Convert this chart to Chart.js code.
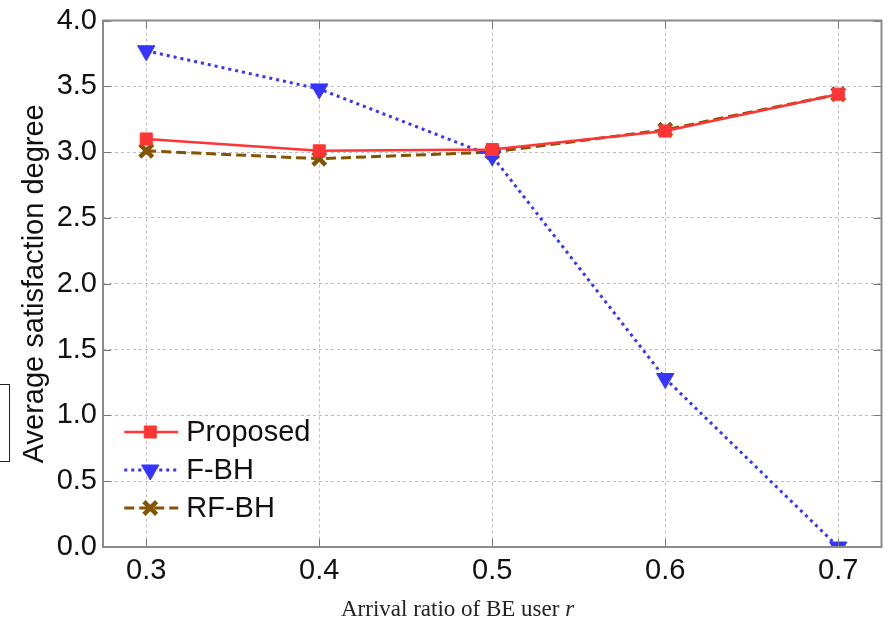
<!DOCTYPE html>
<html>
<head>
<meta charset="utf-8">
<script src="https://cdn.jsdelivr.net/npm/chart.js@4.4.1/dist/chart.umd.min.js"></script>
<style>
  html, body { margin: 0; padding: 0; background: #fff; }
  #wrap { position: relative; width: 895px; height: 627px; }
  #box { position: absolute; left: -3px; top: 384px; width: 12px; height: 76px;
         border: 1.5px solid #222; border-left: none; }
</style>
</head>
<body>
<div id="wrap">
  <canvas id="myChart" width="895" height="627"></canvas>
  <div id="box"></div>
</div>
<script>
const arrivalRatio = [0.3, 0.4, 0.5, 0.6, 0.7];
const xTicks = [0.3, 0.4, 0.5, 0.6, 0.7];
const yTicks = [0, 0.5, 1, 1.5, 2, 2.5, 3, 3.5, 4];

const proposed = [3.10, 3.01, 3.02, 3.16, 3.44];
const fbh = [3.77, 3.48, 2.97, 1.28, 0.0];
const rfbh = [3.01, 2.95, 3.00, 3.17, 3.44];

const xTitle = "Arrival ratio of BE user ";
const xTitleVar = "r";

const toPoints = (vals) => vals.map((v, i) => ({ x: arrivalRatio[i], y: v }));

// legend drawn inside the plot, bottom left
const innerLegend = {
  id: "innerLegend",
  afterDraw(chart) {
    const ctx = chart.ctx;
    const xs = chart.scales.x;
    const x0 = xs.getPixelForValue(0.3) + 4;
    let y = 432;
    chart.data.datasets.forEach((ds) => {
      ctx.save();
      ctx.strokeStyle = ds.borderColor;
      ctx.fillStyle = ds.backgroundColor;
      ctx.lineWidth = ds.borderWidth;
      ctx.setLineDash(ds.borderDash || []);
      ctx.beginPath();
      ctx.moveTo(x0 - 26, y);
      ctx.lineTo(x0 + 28, y);
      ctx.stroke();
      ctx.setLineDash([]);
      ctx.lineWidth = ds.pointBorderWidth;
      Chart.helpers.drawPoint(ctx, {
        pointStyle: ds.pointStyle,
        radius: ds.pointRadius,
        rotation: ds.pointRotation || 0,
        borderWidth: ds.pointBorderWidth
      }, x0, y);
      ctx.fillStyle = "#111";
      ctx.font = "29px 'Liberation Sans', Arial, sans-serif";
      ctx.textBaseline = "middle";
      ctx.fillText(ds.label, x0 + 36, y + 1);
      ctx.restore();
      y += 38;
    });
  }
};

// x axis title, with the variable in italics
const axisTitle = {
  id: "axisTitle",
  afterDraw(chart) {
    const ctx = chart.ctx;
    const a = chart.chartArea;
    ctx.save();
    ctx.fillStyle = "#222";
    ctx.textBaseline = "alphabetic";
    ctx.font = "23px 'Liberation Serif', 'DejaVu Serif', serif";
    const x = a.left + 238;
    const y = a.bottom + 69;
    ctx.fillText(xTitle, x, y);
    const w = ctx.measureText(xTitle).width;
    ctx.font = "italic 23px 'Liberation Serif', 'DejaVu Serif', serif";
    ctx.fillText(xTitleVar, x + w, y);
    ctx.restore();
  }
};

// short inward tick marks on all four sides, plus the frame
const innerTicks = {
  id: "innerTicks",
  afterDatasetsDraw(chart) {
    const ctx = chart.ctx;
    const a = chart.chartArea;
    const xs = chart.scales.x, ys = chart.scales.y;
    ctx.save();
    ctx.strokeStyle = "#777";
    ctx.lineWidth = 1;
    xTicks.forEach((t) => {
      const px = Math.round(xs.getPixelForValue(t)) + 0.5;
      ctx.beginPath();
      ctx.moveTo(px, a.bottom); ctx.lineTo(px, a.bottom - 8);
      ctx.moveTo(px, a.top); ctx.lineTo(px, a.top + 8);
      ctx.stroke();
    });
    yTicks.forEach((t) => {
      const py = Math.round(ys.getPixelForValue(t)) + 0.5;
      ctx.beginPath();
      ctx.moveTo(a.left, py); ctx.lineTo(a.left + 8, py);
      ctx.moveTo(a.right, py); ctx.lineTo(a.right - 8, py);
      ctx.stroke();
    });
    ctx.strokeStyle = "#8a8a8a";
    ctx.lineWidth = 2;
    ctx.strokeRect(a.left, a.top, a.right - a.left, a.bottom - a.top);
    ctx.restore();
  }
};

const tickFont = { family: "'Liberation Sans', Arial, sans-serif", size: 29, lineHeight: 1 };

new Chart(document.getElementById("myChart").getContext("2d"), {
  type: "line",
  data: {
    datasets: [
      {
        label: "Proposed",
        data: toPoints(proposed),
        borderColor: "#ff3535",
        backgroundColor: "#ff3535",
        borderWidth: 2.5,
        pointStyle: "rect",
        pointRadius: 8.5,
        pointBorderWidth: 1,
      },
      {
        label: "F-BH",
        data: toPoints(fbh),
        borderColor: "#3535ff",
        backgroundColor: "#3535ff",
        borderWidth: 3,
        borderDash: [3, 4],
        pointStyle: "triangle",
        pointRotation: 180,
        pointRadius: 10,
        pointBorderWidth: 1,
      },
      {
        label: "RF-BH",
        data: toPoints(rfbh),
        borderColor: "#845400",
        backgroundColor: "#845400",
        borderWidth: 3,
        borderDash: [10, 5],
        pointStyle: "crossRot",
        pointRadius: 9,
        pointBorderWidth: 4.5,
      },
    ],
  },
  options: {
    responsive: false,
    animation: false,
    layout: { padding: { top: 15, right: 12, left: 0, bottom: 0 } },
    plugins: {
      legend: { display: false },
      tooltip: { enabled: false },
    },
    scales: {
      x: {
        type: "linear",
        min: 0.275,
        max: 0.725,
        afterBuildTicks: (s) => { s.ticks = xTicks.map((v) => ({ value: v })); },
        afterFit: (s) => { s.height = 80; },
        grid: { color: "#bdbdbd", drawTicks: false },
        border: { display: false, dash: [3, 3] },
        ticks: { font: tickFont, color: "#111", padding: 9,
                 callback: (v) => v.toFixed(1) },
        title: { display: false },
      },
      y: {
        min: 0,
        max: 4,
        afterBuildTicks: (s) => { s.ticks = yTicks.map((v) => ({ value: v })); },
        afterFit: (s) => { s.width = 103; },
        grid: { color: "#bdbdbd", drawTicks: false },
        border: { display: false, dash: [3, 3] },
        ticks: { font: tickFont, color: "#111", padding: 6,
                 callback: (v) => v.toFixed(1) },
        title: {
          display: true,
          text: "Average satisfaction degree",
          font: { family: "'Liberation Sans', Arial, sans-serif", size: 29 },
          color: "#111",
          padding: { top: 18, bottom: 0 },
        },
      },
    },
  },
  plugins: [innerTicks, innerLegend, axisTitle],
});
</script>
</body>
</html>
